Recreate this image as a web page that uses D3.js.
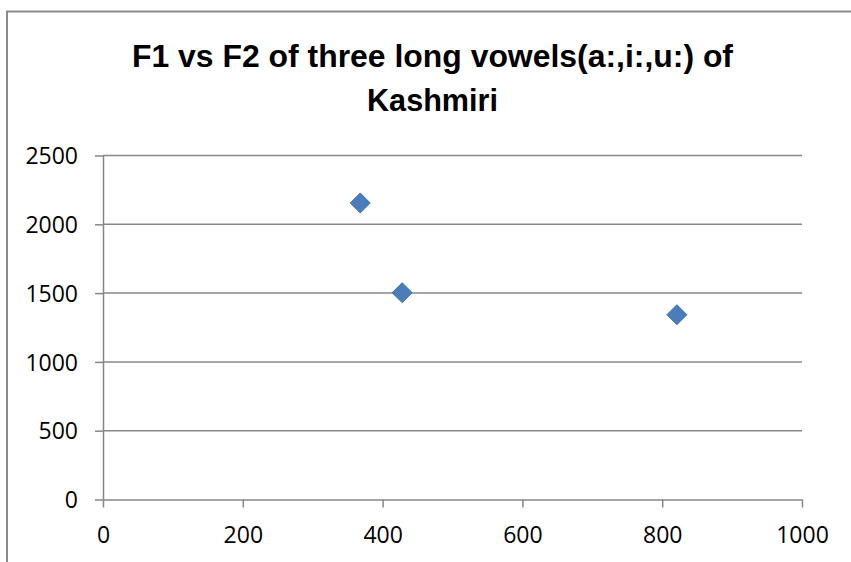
<!DOCTYPE html>
<html>
<head>
<meta charset="utf-8">
<script src="https://cdn.jsdelivr.net/npm/d3@7"></script>
<style>
  html, body { margin: 0; padding: 0; background: #ffffff; }
  svg { display: block; }
</style>
</head>
<body>
<svg id="chart" width="851" height="562"></svg>
<script>
// ---- data ----
const titleLines = ["F1 vs F2 of three long vowels(a:,i:,u:) of", "Kashmiri"];
const f1Values = [368, 428, 821];
const f2Values = [2155, 1503, 1343];
const xTicks = [0, 200, 400, 600, 800, 1000];
const yTicks = [0, 500, 1000, 1500, 2000, 2500];

(function () {
const svg = d3.select("#chart");
const W = 851, H = 562;
const pLeft = 103, pRight = 802, pTop = 155.5, pBottom = 499.5;

// outer chart border (cropped at right/bottom)
svg.append("path")
  .attr("d", `M7,${H + 5} L7,11.5 L${W + 5},11.5`)
  .attr("fill", "none").attr("stroke", "#8a8a8a").attr("stroke-width", 2);

// title
const title = svg.append("g").attr("font-family", "'Liberation Sans', Arial, sans-serif")
  .attr("font-weight", "bold").attr("font-size", 31).attr("fill", "#000");
const tl = [{t: titleLines[0], y: 66.7, len: 601}, {t: titleLines[1], y: 110.5, len: 131}];
tl.forEach(d => {
  title.append("text").attr("x", 432.5).attr("y", d.y).attr("text-anchor", "middle")
    .attr("textLength", d.len).attr("lengthAdjust", "spacingAndGlyphs").text(d.t);
});

const x = d3.scaleLinear().domain([0, 1000]).range([pLeft, pRight]);
const y = d3.scaleLinear().domain([0, 2500]).range([pBottom, pTop]);

const gridColor = "#878787";

// horizontal gridlines
svg.append("g").selectAll("line").data(yTicks.filter(v => v > 0)).join("line")
  .attr("x1", pLeft).attr("x2", pRight)
  .attr("y1", d => y(d)).attr("y2", d => y(d))
  .attr("stroke", gridColor).attr("stroke-width", 1.5);

const fontFam = "'Open Sans', 'Noto Sans', sans-serif";

// y axis
const yAxis = svg.append("g").attr("transform", `translate(${pLeft},0)`)
  .call(d3.axisLeft(y).tickValues(yTicks).tickSizeInner(8).tickSizeOuter(0).tickPadding(17).tickFormat(d3.format("d")));
yAxis.select(".domain").attr("stroke", gridColor).attr("stroke-width", 1.5);
yAxis.selectAll(".tick line").attr("stroke", gridColor).attr("stroke-width", 1.5);
yAxis.selectAll(".tick text").attr("font-family", fontFam).attr("font-size", 23)
  .attr("fill", "#000").attr("dy", "0.36em");

// x axis
const xAxis = svg.append("g").attr("transform", `translate(0,${pBottom})`)
  .call(d3.axisBottom(x).tickValues(xTicks).tickSizeInner(8).tickSizeOuter(0).tickPadding(19).tickFormat(d3.format("d")));
xAxis.select(".domain").attr("stroke", gridColor).attr("stroke-width", 1.5);
xAxis.selectAll(".tick line").attr("stroke", gridColor).attr("stroke-width", 1.5);
xAxis.selectAll(".tick text").attr("font-family", fontFam).attr("font-size", 23)
  .attr("fill", "#000");

// points (diamonds)
const pts = f1Values.map((v, i) => ({x: v, y: f2Values[i]}));
svg.append("g").selectAll("path").data(pts).join("path")
  .attr("transform", d => `translate(${x(d.x)},${y(d.y)})`)
  .attr("d", "M0,-10 L10,0 L0,10 L-10,0 Z")
  .attr("fill", "#4a7ebb").attr("stroke", "#3f70ad").attr("stroke-width", 1);
})();
</script>
</body>
</html>
